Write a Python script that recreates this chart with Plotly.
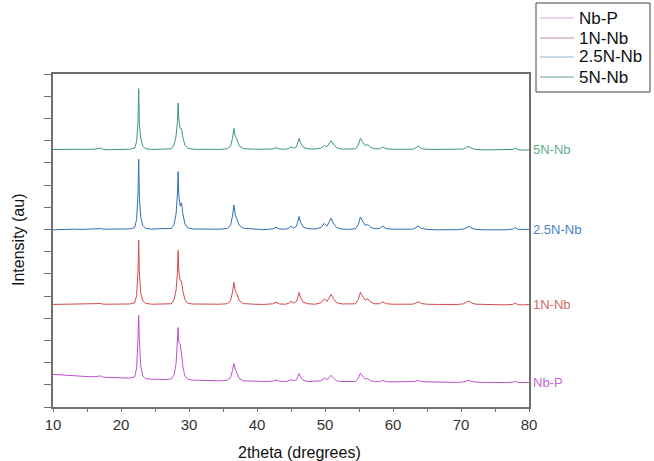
import plotly.graph_objects as go

# 2theta sampling positions (degrees)
two_theta = [10, 11.5, 13, 14.5, 16, 17.0, 17.4, 18.5, 20, 21.3,
             22.0, 22.3, 22.5, 22.6, 22.7, 22.9, 23.2, 23.6, 24.5, 25.5,
             26.5, 27.4, 27.8, 28.1, 28.3, 28.4, 28.5, 28.7, 28.9, 29.1,
             29.4, 29.8, 30.5, 31.5, 33, 34.5, 35.6, 36.1, 36.4, 36.6,
             36.8, 37.0, 37.4, 38.0, 39.5, 41, 42.3, 42.8, 43.3, 44.2,
             44.7, 45.0, 45.4, 45.8, 46.0, 46.2, 46.4, 46.8, 47.5, 48.5,
             49.4, 49.9, 50.3, 50.6, 50.9, 51.2, 51.7, 52.5, 53.5, 54.5,
             54.9, 55.2, 55.5, 55.9, 56.3, 56.7, 57.3, 58.0, 58.5, 59.0,
             60, 61.5, 62.8, 63.2, 63.7, 64.2, 65, 66.5, 68, 69.5,
             70.4, 70.8, 71.2, 71.6, 72.2, 73.5, 75, 76.5, 77.6, 78.0,
             78.4, 79.2, 80]

series_names = ["Nb-P", "1N-Nb", "2.5N-Nb", "5N-Nb"]

# intensities read above each pattern's stacking baseline (au)
int_nbp = [0.37, 0.33, 0.30, 0.28, 0.26, 0.30, 0.24, 0.23, 0.21, 0.20,
           0.25, 0.65, 2.04, 3.04, 1.90, 0.75, 0.30, 0.18, 0.15, 0.14,
           0.14, 0.16, 0.35, 0.85, 1.75, 2.48, 1.80, 1.74, 1.30, 0.70,
           0.30, 0.15, 0.11, 0.10, 0.09, 0.08, 0.10, 0.22, 0.55, 0.86,
           0.60, 0.45, 0.18, 0.08, 0.06, 0.05, 0.06, 0.12, 0.06, 0.05,
           0.08, 0.14, 0.08, 0.12, 0.28, 0.41, 0.26, 0.10, 0.05, 0.05,
           0.08, 0.20, 0.14, 0.22, 0.33, 0.22, 0.08, 0.05, 0.04, 0.05,
           0.20, 0.42, 0.30, 0.16, 0.18, 0.09, 0.04, 0.04, 0.10, 0.04,
           0.03, 0.03, 0.03, 0.05, 0.10, 0.04, 0.03, 0.02, 0.02, 0.01,
           0.03, 0.08, 0.10, 0.05, 0.02, 0.01, 0.00, 0.00, 0.02, 0.05,
           0.01, -0.01, 0.00]

int_1n = [0.00, 0.01, 0.00, 0.02, 0.01, 0.04, 0.01, 0.02, 0.01, 0.02,
          0.07, 0.40, 1.53, 2.89, 1.40, 0.52, 0.16, 0.05, 0.01, 0.02,
          0.01, 0.03, 0.21, 0.65, 1.45, 2.43, 1.50, 1.08, 1.05, 0.60,
          0.22, 0.06, 0.02, 0.01, 0.00, 0.01, 0.03, 0.16, 0.55, 1.00,
          0.62, 0.50, 0.16, 0.04, 0.01, 0.00, 0.03, 0.10, 0.02, 0.01,
          0.06, 0.15, 0.06, 0.13, 0.33, 0.54, 0.30, 0.10, 0.03, 0.01,
          0.07, 0.25, 0.14, 0.28, 0.45, 0.28, 0.08, 0.02, 0.01, 0.03,
          0.22, 0.55, 0.38, 0.20, 0.25, 0.11, 0.03, 0.03, 0.12, 0.03,
          0.01, 0.00, 0.01, 0.04, 0.12, 0.04, 0.01, 0.00, -0.01, 0.00,
          0.03, 0.11, 0.15, 0.06, 0.01, -0.01, -0.01, -0.02, 0.00, 0.06,
          -0.01, -0.02, 0.00]

int_25n = [-0.02, 0.00, 0.01, 0.00, 0.02, 0.04, 0.01, 0.00, 0.02, 0.02,
           0.08, 0.45, 1.59, 3.16, 1.45, 0.55, 0.18, 0.05, 0.01, 0.03,
           0.02, 0.04, 0.22, 0.70, 1.60, 2.60, 1.55, 1.05, 1.20, 0.70,
           0.25, 0.07, 0.02, 0.01, 0.00, 0.01, 0.04, 0.18, 0.60, 1.10,
           0.65, 0.50, 0.18, 0.05, 0.01, -0.01, 0.02, 0.10, 0.02, 0.01,
           0.06, 0.15, 0.06, 0.14, 0.35, 0.58, 0.32, 0.10, 0.03, 0.02,
           0.08, 0.27, 0.15, 0.30, 0.50, 0.30, 0.08, 0.02, 0.00, 0.03,
           0.22, 0.56, 0.38, 0.18, 0.22, 0.10, 0.03, 0.04, 0.15, 0.04,
           0.01, 0.00, 0.01, 0.05, 0.15, 0.04, 0.00, -0.02, -0.02, -0.01,
           0.02, 0.08, 0.13, 0.05, 0.00, -0.02, -0.03, -0.02, 0.01, 0.08,
           0.00, -0.01, 0.00]

int_5n = [0.00, 0.01, -0.01, 0.00, 0.01, 0.06, 0.00, -0.01, 0.00, 0.01,
          0.06, 0.35, 1.23, 2.74, 1.15, 0.50, 0.15, 0.04, 0.00, 0.01,
          0.00, 0.03, 0.20, 0.60, 1.30, 2.09, 1.35, 0.95, 0.93, 0.55,
          0.20, 0.06, 0.02, 0.00, 0.01, 0.00, 0.03, 0.15, 0.50, 0.95,
          0.60, 0.50, 0.15, 0.04, 0.01, 0.00, 0.02, 0.08, 0.02, 0.01,
          0.05, 0.12, 0.06, 0.12, 0.30, 0.50, 0.30, 0.10, 0.03, 0.02,
          0.06, 0.18, 0.12, 0.25, 0.40, 0.25, 0.08, 0.02, 0.01, 0.03,
          0.20, 0.50, 0.35, 0.18, 0.22, 0.10, 0.03, 0.03, 0.11, 0.03,
          0.01, 0.00, 0.01, 0.04, 0.15, 0.04, 0.01, 0.00, 0.00, -0.01,
          0.02, 0.10, 0.13, 0.05, 0.00, -0.02, -0.02, -0.03, 0.00, 0.06,
          -0.01, -0.03, -0.02]

intensities = [int_nbp, int_1n, int_25n, int_5n]
offsets = [1.10, 4.62, 8.00, 11.60]

x_ticks = [10, 20, 30, 40, 50, 60, 70, 80]

line_colors = ["#c04fd0", "#d24a4a", "#2f6fb8", "#3e9a6c"]
label_colors = ["#c566d6", "#d06a6a", "#4a84c4", "#66ad8c"]
legend_colors = ["#d9a6dc", "#c98a8a", "#8fb6d2", "#6aa6a0"]

# plot area in pixels (for converting the hand-placed legend to paper units)
L, R, T, B = 53, 529, 74, 407
PW, PH = R - L, B - T


def px_x(px):
    return (px - L) / PW


def px_y(py):
    return (B - py) / PH


fig = go.Figure()

for name, inten, off, col in zip(series_names, intensities, offsets, line_colors):
    fig.add_trace(go.Scatter(
        x=two_theta, y=[off + v for v in inten], mode="lines",
        line=dict(color=col, width=1), name=name, showlegend=False,
        hoverinfo="skip"))

for name, inten, off, col in zip(series_names, intensities, offsets, label_colors):
    fig.add_annotation(x=80, y=off + inten[-1], xref="x", yref="y",
                       text=name, showarrow=False, xanchor="left",
                       yanchor="middle", xshift=2,
                       font=dict(size=13, color=col,
                                 family="Liberation Sans"))

# legend box drawn by hand
fig.add_shape(type="rect", xref="paper", yref="paper",
              x0=px_x(536), x1=px_x(650), y0=px_y(92), y1=px_y(3),
              line=dict(color="#444", width=1), fillcolor="white",
              layer="above")
entry_py = [18, 38, 57, 77]
for lab, col, py in zip(series_names, legend_colors, entry_py):
    fig.add_shape(type="line", xref="paper", yref="paper",
                  x0=px_x(540), x1=px_x(574), y0=px_y(py), y1=px_y(py),
                  line=dict(color=col, width=1.2), layer="above")
    fig.add_annotation(x=px_x(577), y=px_y(py), xref="paper", yref="paper",
                       text=lab, showarrow=False, xanchor="left",
                       yanchor="middle",
                       font=dict(size=17, color="#111",
                                 family="Liberation Sans"))

# axis titles
fig.add_annotation(x=px_x(18), y=px_y(240), xref="paper", yref="paper",
                   text="Intensity (au)", textangle=-90, showarrow=False,
                   xanchor="center", yanchor="middle",
                   font=dict(size=16, color="#111", family="Liberation Sans"))
fig.add_annotation(x=px_x(299), y=px_y(452), xref="paper", yref="paper",
                   text="2theta (dregrees)", showarrow=False,
                   xanchor="center", yanchor="middle",
                   font=dict(size=16, color="#111", family="Liberation Sans"))

axis_line = "#6f6f6f"
fig.update_layout(
    width=654, height=461,
    margin=dict(l=L, r=654 - R, t=T, b=461 - B, autoexpand=False),
    paper_bgcolor="white", plot_bgcolor="white",
    showlegend=False,
    font=dict(family="Liberation Sans, Arial, sans-serif", color="#222"),
    xaxis=dict(range=[10, 80], tickvals=x_ticks, ticks="outside",
               ticklen=3, tickcolor=axis_line, showgrid=False,
               zeroline=False, showline=True, linecolor=axis_line,
               linewidth=1.5, mirror=True, automargin=False,
               tickfont=dict(size=15, color="#333"),
               minor=dict(dtick=5, tick0=10, ticks="outside", ticklen=3,
                          tickcolor=axis_line)),
    yaxis=dict(range=[0, 15], dtick=1, tick0=0, ticks="outside",
               ticklen=7, tickcolor=axis_line, showticklabels=False,
               showgrid=False, zeroline=False, showline=True,
               linecolor=axis_line, linewidth=1.5, mirror=True,
               automargin=False),
)

fig.write_html("out.html",
               config={"displayModeBar": False},
               post_script="document.body.style.margin='0';")
